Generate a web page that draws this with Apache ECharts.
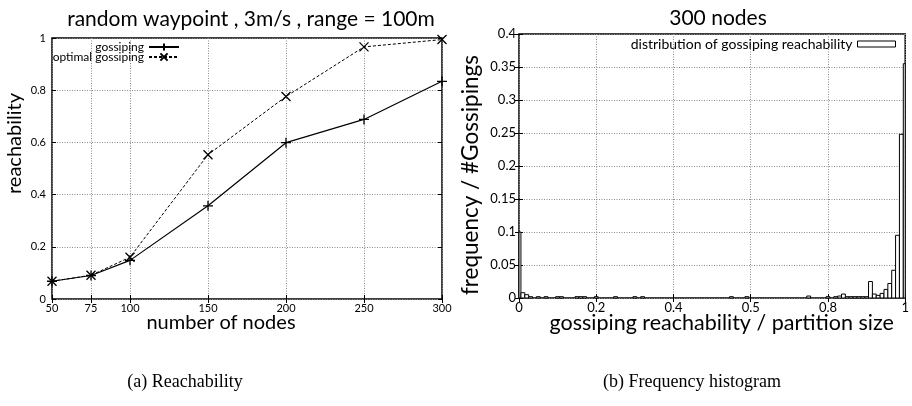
<!DOCTYPE html>
<html>
<head>
<meta charset="utf-8">
<script src="https://cdn.jsdelivr.net/npm/echarts@6/dist/echarts.min.js"></script>
<style>
  html, body { margin: 0; padding: 0; background: #fff; }
  #chart { width: 912px; height: 406px; }
</style>
</head>
<body>
<div id="chart"></div>
<script>
// (a) reachability vs. number of nodes
const nodeCounts   = [50, 75, 100, 150, 200, 250, 300];
const gossipReach  = [0.068, 0.090, 0.148, 0.357, 0.599, 0.688, 0.834];
const optimalReach = [0.068, 0.091, 0.160, 0.553, 0.776, 0.966, 0.994];
const nodeTicks    = [50, 75, 100, 150, 200, 250, 300];

// (b) histogram of gossiping reachability, 300 nodes (bin centres, width 0.01)
const binCenters = [0.00, 0.01, 0.02, 0.03, 0.05, 0.07, 0.10, 0.11, 0.15, 0.16,
                    0.17, 0.20, 0.25, 0.30, 0.32, 0.55, 0.59, 0.75, 0.80, 0.82,
                    0.83, 0.84, 0.85, 0.86, 0.87, 0.88, 0.89, 0.90, 0.91, 0.92,
                    0.93, 0.94, 0.95, 0.96, 0.97, 0.98, 0.99, 1.00];
const binFreq    = [0.100, 0.008, 0.005, 0.002, 0.002, 0.002, 0.002, 0.002, 0.002, 0.002,
                    0.002, 0.002, 0.002, 0.002, 0.002, 0.002, 0.002, 0.003, 0.002, 0.002,
                    0.003, 0.006, 0.002, 0.002, 0.002, 0.002, 0.002, 0.002, 0.025, 0.006,
                    0.004, 0.007, 0.013, 0.022, 0.042, 0.095, 0.248, 0.355];
const BIN_WIDTH = 0.01;
const partitionTickLabels = ['0', '0.2', '0.4', '0.5', '0.8', '1'];

const SANS = 'Lato';
const SERIF = 'Liberation Serif';

const gridLine = { show: true, lineStyle: { color: '#8a8a8a', width: 1, type: [1, 1.5] } };
const insideTick = { show: true, inside: true, length: 4, lineStyle: { color: '#000', width: 1 } };
const PLUS = 'path://M0,5L10,5M5,0L5,10';
const CROSS = 'path://M0,0L10,10M10,0L0,10';

function mirrorAxis(gridIndex, position, min, max, extra) {
  return Object.assign({
    type: 'value', gridIndex, position, min, max,
    axisLine: { show: false }, axisLabel: { show: false },
    splitLine: { show: false }, axisTick: insideTick
  }, extra || {});
}

const titleFont = { fontFamily: SANS, fontSize: 21, fontWeight: 'normal', color: '#000' };
const captionFont = { fontFamily: SERIF, fontSize: 18, fontWeight: 'normal', color: '#000' };

const chart = echarts.init(document.getElementById('chart'), null, { renderer: 'canvas' });

chart.setOption({
  animation: false,
  backgroundColor: '#fff',
  textStyle: { fontFamily: SANS, color: '#000' },
  title: [
    { text: 'random waypoint , 3m/s , range = 100m', left: 246, top: 4, textAlign: 'center', textStyle: titleFont },
    { text: '300 nodes', left: 713, top: 3, textAlign: 'center', textStyle: titleFont },
    { text: '(a) Reachability', left: 180, top: 368, textAlign: 'center', textStyle: captionFont },
    { text: '(b) Frequency histogram', left: 687, top: 368, textAlign: 'center', textStyle: captionFont }
  ],
  legend: [
    { data: ['gossiping'], right: 732, top: 41, align: 'right', itemWidth: 30, itemHeight: 9,
      padding: 0, itemGap: 0, textStyle: { fontFamily: SANS, fontSize: 12, color: '#000' } },
    { data: ['optimal gossiping'], right: 732, top: 51, align: 'right', itemWidth: 30, itemHeight: 9,
      padding: 0, itemGap: 0, textStyle: { fontFamily: SANS, fontSize: 12, color: '#000' } },
    { data: [{ name: 'distribution of gossiping reachability', icon: 'rect' }], right: 16, top: 37,
      align: 'right', itemWidth: 38, itemHeight: 6, padding: 0,
      itemStyle: { color: '#fff', borderColor: '#000', borderWidth: 1 },
      textStyle: { fontFamily: SANS, fontSize: 14, color: '#000' } }
  ],
  grid: [
    { left: 52, top: 38, width: 390, height: 261, show: true, borderColor: '#000', borderWidth: 1.5,
      backgroundColor: 'transparent' },
    { left: 519, top: 34, width: 387, height: 264, show: true, borderColor: '#000', borderWidth: 1.5,
      backgroundColor: 'transparent' }
  ],
  xAxis: [
    { type: 'value', gridIndex: 0, min: 50, max: 300,
      axisLine: { show: false },
      axisTick: Object.assign({ customValues: nodeTicks }, insideTick),
      axisLabel: { customValues: nodeTicks, fontFamily: SANS, fontSize: 11, color: '#000', margin: 4 },
      splitLine: gridLine,
      name: 'number of nodes', nameLocation: 'middle', nameGap: 14, nameMoveOverlap: false,
      nameTextStyle: { fontFamily: SANS, fontSize: 20, color: '#000', padding: [0, 52, 0, 0] } },
    mirrorAxis(0, 'top', 50, 300, { axisTick: Object.assign({ customValues: nodeTicks }, insideTick),
      axisLabel: { show: false, customValues: nodeTicks } }),
    { type: 'value', gridIndex: 1, min: 0, max: 1, interval: 0.2,
      axisLine: { show: false }, axisTick: insideTick,
      axisLabel: { fontFamily: SANS, fontSize: 13, color: '#000', margin: 3,
        formatter: v => partitionTickLabels[Math.round(v / 0.2)] },
      splitLine: gridLine,
      name: 'gossiping reachability / partition size', nameLocation: 'middle', nameGap: 14, nameMoveOverlap: false,
      nameTextStyle: { fontFamily: SANS, fontSize: 21.5, color: '#000', padding: [0, 0, 0, 19] } },
    mirrorAxis(1, 'top', 0, 1, { interval: 0.2 })
  ],
  yAxis: [
    { type: 'value', gridIndex: 0, min: 0, max: 1, interval: 0.2,
      axisLine: { show: false }, axisTick: insideTick,
      axisLabel: { fontFamily: SANS, fontSize: 11, color: '#000', margin: 6 },
      splitLine: gridLine,
      name: 'reachability', nameLocation: 'middle', nameGap: 27,
      nameTextStyle: { fontFamily: SANS, fontSize: 20, color: '#000', padding: [0, 0, 0, 50] } },
    mirrorAxis(0, 'right', 0, 1, { interval: 0.2 }),
    { type: 'value', gridIndex: 1, min: 0, max: 0.4, interval: 0.05,
      axisLine: { show: false }, axisTick: insideTick,
      axisLabel: { fontFamily: SANS, fontSize: 13, color: '#000', margin: 3 },
      splitLine: gridLine,
      name: 'frequency / #Gossipings', nameLocation: 'middle', nameGap: 37,
      nameTextStyle: { fontFamily: SANS, fontSize: 22.5, color: '#000', padding: [0, 18, 0, 0] } },
    mirrorAxis(1, 'right', 0, 0.4, { interval: 0.05 })
  ],
  series: [
    { name: 'gossiping', type: 'line', xAxisIndex: 0, yAxisIndex: 0,
      data: nodeCounts.map((n, i) => [n, gossipReach[i]]),
      symbol: PLUS, symbolSize: 10,
      itemStyle: { color: '#000', borderColor: '#000', borderWidth: 1.3 },
      lineStyle: { color: '#000', width: 1.2, type: 'solid' } },
    { name: 'optimal gossiping', type: 'line', xAxisIndex: 0, yAxisIndex: 0,
      data: nodeCounts.map((n, i) => [n, optimalReach[i]]),
      symbol: CROSS, symbolSize: 9,
      itemStyle: { color: '#000', borderColor: '#000', borderWidth: 1.3 },
      lineStyle: { color: '#000', width: 1, type: [3, 2] } },
    { name: 'distribution of gossiping reachability', type: 'custom', xAxisIndex: 2, yAxisIndex: 2,
      data: binCenters.map((c, i) => [c, binFreq[i]]),
      itemStyle: { color: '#fff', borderColor: '#000', borderWidth: 1 },
      renderItem: function (params, api) {
        const c = api.value(0), f = api.value(1);
        const lo = Math.max(0, c - BIN_WIDTH / 2);
        const hi = Math.min(1, c + BIN_WIDTH / 2);
        const p0 = api.coord([lo, 0]);
        const p1 = api.coord([hi, f]);
        return {
          type: 'rect',
          shape: { x: p0[0], y: p1[1], width: p1[0] - p0[0], height: p0[1] - p1[1] },
          style: { fill: '#fff', stroke: '#000', lineWidth: 1 }
        };
      } }
  ]
});
</script>
</body>
</html>
